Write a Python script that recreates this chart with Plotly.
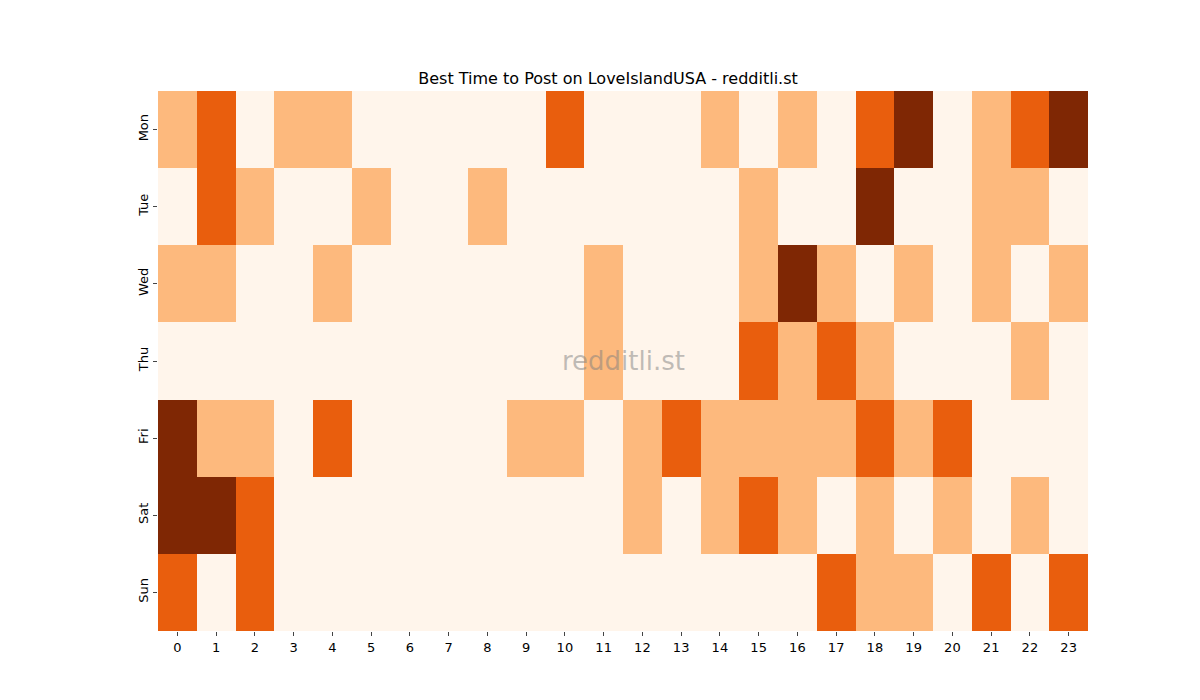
import plotly.graph_objects as go

hours = [str(h) for h in range(24)]
days = ["Mon", "Tue", "Wed", "Thu", "Fri", "Sat", "Sun"]
mon = [1,2,0,1,1,0,0,0,0,0,2,0,0,0,1,0,1,0,2,3,0,1,2,3]
tue = [0,2,1,0,0,1,0,0,1,0,0,0,0,0,0,1,0,0,3,0,0,1,1,0]
wed = [1,1,0,0,1,0,0,0,0,0,0,1,0,0,0,1,3,1,0,1,0,1,0,1]
thu = [0,0,0,0,0,0,0,0,0,0,0,1,0,0,0,2,1,2,1,0,0,0,1,0]
fri = [3,1,1,0,2,0,0,0,0,1,1,0,1,2,1,1,1,1,2,1,2,0,0,0]
sat = [3,3,2,0,0,0,0,0,0,0,0,0,1,0,1,2,1,0,1,0,1,0,1,0]
sun = [2,0,2,0,0,0,0,0,0,0,0,0,0,0,0,0,0,2,1,1,0,2,0,2]
z = [mon, tue, wed, thu, fri, sat, sun]

cs = [[0, "#fff5eb"], [0.25, "#fff5eb"], [0.25, "#fdb97d"], [0.5, "#fdb97d"],
      [0.5, "#e95e0d"], [0.75, "#e95e0d"], [0.75, "#7f2704"], [1, "#7f2704"]]

fig = go.Figure(go.Heatmap(z=z, x=hours, y=days, colorscale=cs, zmin=-0.5, zmax=3.5,
                           showscale=False, xgap=0, ygap=0))
fig.update_layout(
    width=1200, height=700, paper_bgcolor="white", plot_bgcolor="white",
    margin=dict(l=150, r=120, t=83, b=77),
    title=dict(text="Best Time to Post on LoveIslandUSA - redditli.st", x=0.5, xanchor="center",
               y=1-70/700, yanchor="middle", font=dict(family="DejaVu Sans", size=16, color="black")),
    font=dict(family="DejaVu Sans", size=13, color="black"),
    xaxis=dict(type="category", ticks="outside", ticklen=4, showgrid=False, zeroline=False),
    yaxis=dict(type="category", autorange="reversed", ticks="outside", ticklen=4, tickangle=-90,
               showgrid=False, zeroline=False),
    annotations=[dict(text="redditli.st", x=0.5, y=0.5, xref="paper", yref="paper", showarrow=False,
                      font=dict(family="DejaVu Sans", size=26, color="rgba(128,128,128,0.5)"))],
)
fig.write_html("out.html")
